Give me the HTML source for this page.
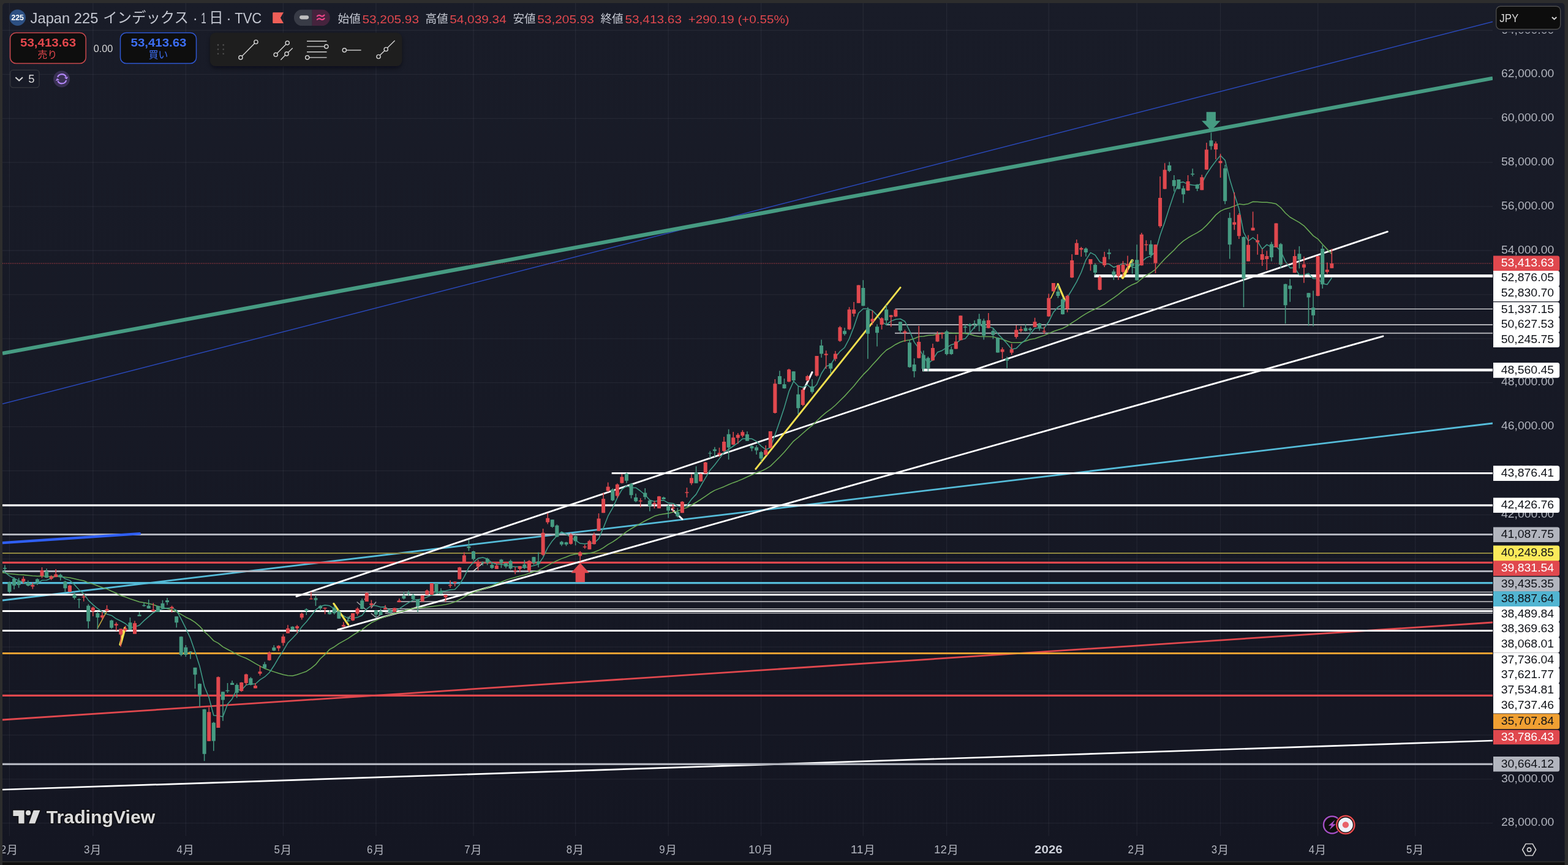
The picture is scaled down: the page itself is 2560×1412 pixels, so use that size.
<!DOCTYPE html>
<html lang="ja"><head><meta charset="utf-8"><title>Japan 225 - TradingView</title>
<style>html,body{margin:0;padding:0;background:#2d2d2d;}body{width:2560px;height:1412px;overflow:hidden;position:relative;font-family:"Liberation Sans", sans-serif;}svg{position:absolute;left:0;top:0;display:block;will-change:transform;}text{font-family:"Liberation Sans", sans-serif;}text.cjk{font-family:"Liberation Sans", "Noto Sans CJK JP", sans-serif;}</style>
</head><body>
<svg width="2560" height="1412" viewBox="0 0 2560 1412">
<defs>
<linearGradient id="bg" x1="0" y1="0" x2="0" y2="1"><stop offset="0" stop-color="#191c28"/><stop offset="1" stop-color="#141622"/></linearGradient>
<clipPath id="pane"><rect x="4" y="5" width="2433" height="1359.5"/></clipPath>
<clipPath id="axis"><rect x="2437" y="52.3" width="117" height="1313"/></clipPath>
</defs>
<rect x="0" y="0" width="2560" height="1412" fill="#2d2d2d"/>
<rect x="4" y="1407.6" width="2550.5" height="4.4" fill="#0f0f0f"/>
<rect x="4" y="5" width="2550.5" height="1400.6" rx="5" fill="url(#bg)"/>
<rect x="4" y="1395" width="2550.5" height="10.6" fill="#141622"/>
<g stroke="rgba(240,243,250,0.06)" stroke-width="1.3">
<line x1="15.48" y1="5" x2="15.48" y2="1364.5"/>
<line x1="151.83" y1="5" x2="151.83" y2="1364.5"/>
<line x1="303.32" y1="5" x2="303.32" y2="1364.5"/>
<line x1="462.4" y1="5" x2="462.4" y2="1364.5"/>
<line x1="613.9" y1="5" x2="613.9" y2="1364.5"/>
<line x1="772.98" y1="5" x2="772.98" y2="1364.5"/>
<line x1="939.62" y1="5" x2="939.62" y2="1364.5"/>
<line x1="1091.13" y1="5" x2="1091.13" y2="1364.5"/>
<line x1="1242.63" y1="5" x2="1242.63" y2="1364.5"/>
<line x1="1409.28" y1="5" x2="1409.28" y2="1364.5"/>
<line x1="1545.63" y1="5" x2="1545.63" y2="1364.5"/>
<line x1="1712.28" y1="5" x2="1712.28" y2="1364.5"/>
<line x1="1856.2" y1="5" x2="1856.2" y2="1364.5"/>
<line x1="1992.55" y1="5" x2="1992.55" y2="1364.5"/>
<line x1="2151.62" y1="5" x2="2151.62" y2="1364.5"/>
<line x1="2310.7" y1="5" x2="2310.7" y2="1364.5"/>
<line x1="4" y1="1343.7" x2="2437" y2="1343.7"/>
<line x1="4" y1="1271.8" x2="2437" y2="1271.8"/>
<line x1="4" y1="1199.9" x2="2437" y2="1199.9"/>
<line x1="4" y1="1128" x2="2437" y2="1128"/>
<line x1="4" y1="1056.1" x2="2437" y2="1056.1"/>
<line x1="4" y1="984.2" x2="2437" y2="984.2"/>
<line x1="4" y1="912.3" x2="2437" y2="912.3"/>
<line x1="4" y1="840.4" x2="2437" y2="840.4"/>
<line x1="4" y1="768.5" x2="2437" y2="768.5"/>
<line x1="4" y1="696.6" x2="2437" y2="696.6"/>
<line x1="4" y1="624.7" x2="2437" y2="624.7"/>
<line x1="4" y1="552.8" x2="2437" y2="552.8"/>
<line x1="4" y1="480.9" x2="2437" y2="480.9"/>
<line x1="4" y1="409" x2="2437" y2="409"/>
<line x1="4" y1="337.1" x2="2437" y2="337.1"/>
<line x1="4" y1="265.2" x2="2437" y2="265.2"/>
<line x1="4" y1="193.3" x2="2437" y2="193.3"/>
<line x1="4" y1="121.4" x2="2437" y2="121.4"/>
<line x1="4" y1="49.5" x2="2437" y2="49.5"/>
</g>
<g clip-path="url(#pane)">
<line x1="4" y1="659.2" x2="2437" y2="35.4" stroke="#2a49bb" stroke-width="1.45"/>
<line x1="4" y1="576.8" x2="2437" y2="127.7" stroke="#469b82" stroke-width="6.2"/>
<line x1="4" y1="980" x2="2437" y2="691" stroke="#55bcd9" stroke-width="2.8"/>
<line x1="4" y1="1175" x2="2437" y2="1016" stroke="#e0484e" stroke-width="2.8"/>
<line x1="4" y1="1289" x2="2437" y2="1209" stroke="#ffffff" stroke-width="2.7"/>
<line x1="4" y1="824.8" x2="2437" y2="824.8" stroke="#ffffff" stroke-width="3.2"/>
<line x1="4" y1="872.5" x2="2437" y2="872.5" stroke="#b2b5be" stroke-width="3"/>
<line x1="4" y1="903" x2="2437" y2="903" stroke="#8f8740" stroke-width="1.8"/>
<line x1="4" y1="918.4" x2="2437" y2="918.4" stroke="#e0484e" stroke-width="3.2"/>
<line x1="4" y1="932.5" x2="2437" y2="932.5" stroke="#b2b5be" stroke-width="3"/>
<line x1="4" y1="951.6" x2="2437" y2="951.6" stroke="#55bcd9" stroke-width="3.2"/>
<line x1="508" y1="966.4" x2="2437" y2="966.4" stroke="#c4c4c8" stroke-width="1.5"/>
<line x1="4" y1="970.8" x2="2437" y2="970.8" stroke="#ffffff" stroke-width="3"/>
<line x1="648.5" y1="981.9" x2="2437" y2="981.9" stroke="#9c9ca2" stroke-width="2"/>
<line x1="626" y1="993.9" x2="2437" y2="993.9" stroke="#aaaaae" stroke-width="1.6"/>
<line x1="4" y1="997.5" x2="2437" y2="997.5" stroke="#ffffff" stroke-width="3.2"/>
<line x1="628.7" y1="1000.7" x2="2437" y2="1000.7" stroke="#b8b8bc" stroke-width="1.4"/>
<line x1="4" y1="1029.5" x2="2437" y2="1029.5" stroke="#ffffff" stroke-width="3"/>
<line x1="4" y1="1066.5" x2="2437" y2="1066.5" stroke="#f0a032" stroke-width="3.2"/>
<line x1="4" y1="1135.3" x2="2437" y2="1135.3" stroke="#e0484e" stroke-width="3.2"/>
<line x1="4" y1="1247.3" x2="2437" y2="1247.3" stroke="#b2b5be" stroke-width="3.2"/>
<line x1="1786.5" y1="450.35" x2="2437" y2="450.35" stroke="#ffffff" stroke-width="4.8"/>
<line x1="1461.3" y1="504.4" x2="2437" y2="504.4" stroke="#e2e2e4" stroke-width="1.3"/>
<line x1="1447.4" y1="530.2" x2="2437" y2="530.2" stroke="#c6c6ca" stroke-width="1.8"/>
<line x1="1461" y1="543.9" x2="2437" y2="543.9" stroke="#9c9ca2" stroke-width="2.2"/>
<line x1="1506" y1="604.05" x2="2437" y2="604.05" stroke="#ffffff" stroke-width="4.6"/>
<line x1="998.7" y1="772.5" x2="2437" y2="772.5" stroke="#ffffff" stroke-width="3.2"/>
<line x1="483.9" y1="973.6" x2="2265.4" y2="378.2" stroke="#ffffff" stroke-width="2.8" stroke-linecap="round"/>
<line x1="551.5" y1="1027.9" x2="2258" y2="548.8" stroke="#ffffff" stroke-width="2.8" stroke-linecap="round"/>
<line x1="4" y1="886.1" x2="228" y2="871.1" stroke="#2f5ff5" stroke-width="4.4" stroke-linecap="round"/>
<line x1="1097.2" y1="831.4" x2="1114" y2="847.5" stroke="#ffffff" stroke-width="3" stroke-linecap="round"/>
<line x1="1312.3" y1="636" x2="1326" y2="607.5" stroke="#ffffff" stroke-width="3" stroke-linecap="round"/>
<line x1="772" y1="932.8" x2="789" y2="918.7" stroke="#e8e8e8" stroke-width="1.4"/>
<polyline fill="none" stroke="#a8a8ac" stroke-width="1.4" points="582.7,982.5 597.6,995.2"/>
<polyline fill="none" stroke="#a8a8ac" stroke-width="1.4" points="594.6,978.8 605.8,968.4"/>
<polyline fill="none" stroke="#a8a8ac" stroke-width="1.4" points="605.8,992.9 614,982.5"/>
<polyline fill="none" stroke="#a8a8ac" stroke-width="1.4" points="605.8,1001.1 614,1007.8 620.7,1004.1"/>
<polyline fill="none" stroke="#a8a8ac" stroke-width="1.4" points="567.1,1013 572.3,1004.8"/>
</g>
<g clip-path="url(#pane)">
<polyline fill="none" stroke="#6aab55" stroke-width="1.55" stroke-linejoin="round" points="4,934.6 7.9,935.21 15.48,936.43 23.05,937.23 30.62,938.02 38.2,938.39 45.77,939.2 53.35,939.98 60.92,940.56 68.5,940.38 76.08,940.68 83.65,940.9 91.23,940.98 98.8,941.26 106.38,942.24 113.95,943.05 121.53,944.68 129.1,946.43 136.68,947.96 144.25,951.12 151.83,953.37 159.4,956.26 166.98,959.03 174.55,961.38 182.12,964.95 189.7,968.28 197.28,972.2 204.85,974.6 212.43,977.48 220,979.97 227.58,982.42 235.15,983.75 242.73,985.28 250.3,987.09 257.88,989.8 265.45,991.8 273.02,993.48 280.6,995.62 288.18,998.57 295.75,1002.92 303.32,1007.45 310.9,1011 318.47,1015.87 326.05,1022.32 333.62,1030.98 341.2,1037.8 348.77,1045.87 356.35,1049.89 363.93,1055.82 371.5,1059.95 379.07,1063.93 386.65,1068.1 394.22,1071.62 401.8,1074.54 409.38,1078.57 416.95,1083.1 424.52,1087.39 432.1,1091.28 439.68,1094.1 447.25,1096.64 454.82,1099.09 462.4,1101.33 469.97,1102.72 477.55,1103.19 485.12,1101.31 492.7,1098.63 500.27,1095.92 507.85,1090.94 515.43,1084.72 523,1075.21 530.58,1068.4 538.15,1060.13 545.73,1055.97 553.3,1050.65 560.88,1046.34 568.45,1042.18 576.02,1037 583.6,1032.18 591.17,1027.91 598.75,1021.91 606.33,1016.54 613.9,1012.83 621.48,1009.37 629.05,1006.44 636.62,1003.97 644.2,1001.5 651.77,999.15 659.35,997.2 666.92,994.85 674.5,993.09 682.08,992.61 689.65,991.62 697.23,991.1 704.8,990 712.38,988.96 719.95,988.04 727.52,986.77 735.1,984.93 742.67,982.52 750.25,978.76 757.83,974.45 765.4,970.19 772.98,966.95 780.55,963.88 788.12,961.91 795.7,959.25 803.27,956.19 810.85,952.96 818.42,950.01 826,946.98 833.58,944.39 841.15,942.44 848.73,940.32 856.3,938.59 863.88,936.1 871.45,933.25 879.02,931.18 886.6,927.41 894.17,923.16 901.75,918.88 909.33,915.17 916.9,911.87 924.48,909.22 932.05,906.15 939.62,904.44 947.2,904.25 954.77,904.14 962.35,902.97 969.92,901.22 977.5,898.33 985.08,894.16 992.65,888.86 1000.23,884.61 1007.8,879.5 1015.38,873.66 1022.95,867.93 1030.53,863.01 1038.1,858.78 1045.68,854.44 1053.25,850.26 1060.83,846.55 1068.4,842.57 1075.98,840.19 1083.55,838.96 1091.13,837.89 1098.7,835.99 1106.28,834.16 1113.85,831.37 1121.43,828.6 1129,824.47 1136.58,819.96 1144.15,815.23 1151.73,810.09 1159.3,804.78 1166.88,800.36 1174.45,797.36 1182.03,794.42 1189.6,790.96 1197.18,787.9 1204.75,785.15 1212.33,781.97 1219.9,778.43 1227.48,774.96 1235.05,771.68 1242.63,769.17 1250.2,765.51 1257.78,760.83 1265.35,753.47 1272.93,745.95 1280.5,737.98 1288.08,728.96 1295.65,720.09 1303.23,713.98 1310.8,707.29 1318.38,700.64 1325.95,694.68 1333.53,686.97 1341.1,679.88 1348.68,673.36 1356.25,667.98 1363.83,661.51 1371.4,654.04 1378.98,646.63 1386.55,638.26 1394.13,630.07 1401.7,620.47 1409.28,611.65 1416.85,604.17 1424.43,595.59 1432,587.37 1439.58,578.78 1447.15,571.53 1454.73,567.06 1462.3,562.21 1469.88,558.44 1477.45,555.95 1485.03,555.08 1492.6,552.67 1500.18,549.54 1507.75,549.06 1515.33,547.52 1522.9,547 1530.48,545.73 1538.05,544.38 1545.63,543.43 1553.2,543.45 1560.78,544.38 1568.35,543.18 1575.93,544.37 1583.5,545.45 1591.08,548.01 1598.65,549.29 1606.23,549.42 1613.8,549.5 1621.38,549.65 1628.95,551.89 1636.53,553.78 1644.1,556.75 1651.68,559.33 1659.25,559.28 1666.83,559.12 1674.4,556.76 1681.98,554.07 1689.55,552.75 1697.13,550.06 1704.7,547.62 1712.28,544.35 1719.85,541.01 1727.43,538.58 1735,535.98 1742.58,532.18 1750.15,526.88 1757.73,522.13 1765.3,516.94 1772.88,512.13 1780.45,507.88 1788.03,504.43 1795.6,500.62 1803.18,496.49 1810.75,491.21 1818.33,486.18 1825.9,480.68 1833.48,474.4 1841.05,468.84 1848.63,464.67 1856.2,461.49 1863.78,455.19 1871.35,449.59 1878.93,445.22 1886.5,439.8 1894.08,431.11 1901.65,422.74 1909.23,415.43 1916.8,408.26 1924.38,400.07 1931.95,393.44 1939.53,388.28 1947.1,383.82 1954.68,379.93 1962.25,375.02 1969.83,367.87 1977.4,359.62 1984.98,350.88 1992.55,344.61 2000.13,341.15 2007.7,339.14 2015.28,336.34 2022.85,333.09 2030.43,334.02 2038,332.65 2045.58,329.22 2053.15,329.59 2060.73,330.25 2068.3,330.33 2075.88,331.16 2083.45,332.82 2091.03,339.02 2098.6,347.79 2106.18,354.51 2113.75,358.9 2121.33,363.16 2128.9,368.59 2136.48,376.61 2144.05,384.88 2151.62,390.03 2159.2,398.83 2166.78,406.89 2174.35,414.73"/>
<polyline fill="none" stroke="#3f9c88" stroke-width="1.55" stroke-linejoin="round" points="4,931.01 7.9,934.05 15.48,940.13 23.05,944.17 30.62,948.08 38.2,949.95 45.77,955.43 53.35,953.27 60.92,952.12 68.5,947.32 76.08,946.94 83.65,944.01 91.23,940.48 98.8,939.01 106.38,944.82 113.95,947.37 121.53,954.39 129.1,962.76 136.68,969.03 144.25,979.87 151.83,987.07 159.4,993.44 166.98,998.49 174.55,1002.58 182.12,1004.67 189.7,1010.05 197.28,1013.75 204.85,1018.01 212.43,1024.69 220,1023.16 227.58,1020.66 235.15,1013.16 242.73,1006.66 250.3,1000.15 257.88,996.45 265.45,993.85 273.02,992.68 280.6,992.17 288.18,996.38 295.75,1010.44 303.32,1025.63 310.9,1041.94 318.47,1064.04 326.05,1087.82 333.62,1120.18 341.2,1138.83 348.77,1167.79 356.35,1168.57 363.93,1170.05 371.5,1149.5 379.07,1140.67 386.65,1124.91 394.22,1126.66 401.8,1118.28 409.38,1116.28 416.95,1116.52 424.52,1109.62 432.1,1104.95 439.68,1097.98 447.25,1086.78 454.82,1073.8 462.4,1062.36 469.97,1049.38 477.55,1041.8 485.12,1033.83 492.7,1023.33 500.27,1014.91 507.85,1005.16 515.43,995.49 523,989.64 530.58,987.7 538.15,988.83 545.73,993.68 553.3,999.72 560.88,1005.16 568.45,1009.56 576.02,1009.26 583.6,1007.72 591.17,1004.57 598.75,994.16 606.33,988.33 613.9,988.77 621.48,990.91 629.05,990.62 636.62,997.07 644.2,998.56 651.77,993.95 659.35,988.54 666.92,983.87 674.5,979.41 682.08,978.9 689.65,977.26 697.23,974.65 704.8,971.23 712.38,969 719.95,964.83 727.52,964.62 735.1,962.84 742.67,962.33 750.25,954.17 757.83,941.64 765.4,926.35 772.98,917.84 780.55,911.38 788.12,909.9 795.7,912.33 803.27,918.79 810.85,920.93 818.42,921.23 826,922.42 833.58,924.26 841.15,925.15 848.73,925.36 856.3,926.79 863.88,925 871.45,923.16 879.02,920.99 886.6,910.07 894.17,894.07 901.75,882.92 909.33,874.45 916.9,868.08 924.48,871.89 932.05,877.3 939.62,881.97 947.2,887.03 954.77,887.68 962.35,886.61 969.92,886.7 977.5,879.35 985.08,861.9 992.65,842.42 1000.23,829.12 1007.8,812.62 1015.38,799.03 1022.95,793.14 1030.53,795.9 1038.1,796.2 1045.68,801.49 1053.25,808.01 1060.83,816.23 1068.4,818.77 1075.98,817.13 1083.55,816.67 1091.13,821.11 1098.7,821.65 1106.28,826.01 1113.85,827.79 1121.43,825.5 1129,814.87 1136.58,806.87 1144.15,793.07 1151.73,780.2 1159.3,767.61 1166.88,758.81 1174.45,748.9 1182.03,738.35 1189.6,733.51 1197.18,728.26 1204.75,722.98 1212.33,716.2 1219.9,715.93 1227.48,716.2 1235.05,720.37 1242.63,728.09 1250.2,733.92 1257.78,730.8 1265.35,709.68 1272.93,688.04 1280.5,665.14 1288.08,638.91 1295.65,622.31 1303.23,630.31 1310.8,632.18 1318.38,628.19 1325.95,635.48 1333.53,627.48 1341.1,609.72 1348.68,597.95 1356.25,595.49 1363.83,583.03 1371.4,573.68 1378.98,567.22 1386.55,552.76 1394.13,533.44 1401.7,511.03 1409.28,504.02 1416.85,503.92 1424.43,507.01 1432,514.61 1439.58,525.43 1447.15,530.17 1454.73,524.12 1462.3,521.16 1469.88,520.47 1477.45,524.77 1485.03,540.05 1492.6,558.34 1500.18,568.81 1507.75,581.28 1515.33,593.34 1522.9,587.11 1530.48,575.06 1538.05,572.17 1545.63,567.35 1553.2,562.68 1560.78,560.54 1568.35,554.46 1575.93,552.69 1583.5,543.53 1591.08,533.8 1598.65,528.56 1606.23,535.11 1613.8,532.68 1621.38,535.61 1628.95,544.83 1636.53,552.63 1644.1,560.79 1651.68,570.3 1659.25,568.61 1666.83,560.95 1674.4,554.96 1681.98,544.93 1689.55,535.92 1697.13,535.2 1704.7,535.83 1712.28,525.07 1719.85,509.74 1727.43,501.29 1735,496.93 1742.58,485.49 1750.15,473.18 1757.73,460.1 1765.3,444.53 1772.88,424.31 1780.45,412.32 1788.03,416.32 1795.6,427.54 1803.18,430.42 1810.75,431 1818.33,436.29 1825.9,433.85 1833.48,429.69 1841.05,432.06 1848.63,435.9 1856.2,437.51 1863.78,427.54 1871.35,420.89 1878.93,417.82 1886.5,410.88 1894.08,383.96 1901.65,362.83 1909.23,338.92 1916.8,316.47 1924.38,298.28 1931.95,297.13 1939.53,300.87 1947.1,302.06 1954.68,302.9 1962.25,299.06 1969.83,284.48 1977.4,273.01 1984.98,262.85 1992.55,253.81 2000.13,261.6 2007.7,292.6 2015.28,317.43 2022.85,340.74 2030.43,379.13 2038,393.43 2045.58,387.91 2053.15,393.83 2060.73,406.67 2068.3,399.35 2075.88,403.43 2083.45,402 2091.03,409.94 2098.6,426.62 2106.18,437.37 2113.75,436.97 2121.33,448.81 2128.9,448.72 2136.48,446.16 2144.05,454.73 2151.62,454.73 2159.2,462.83 2166.78,464.55 2174.35,453.45"/>
<line x1="1233.8" y1="765.5" x2="1470" y2="469.3" stroke="#f5e04f" stroke-width="2.9" stroke-linecap="round"/>
<line x1="196.4" y1="1052" x2="204" y2="1025.2" stroke="#f5e04f" stroke-width="4.2" stroke-linecap="round"/>
<line x1="158.8" y1="1026.5" x2="174.1" y2="998.4" stroke="#c9ab3c" stroke-width="1.5"/>
<line x1="544.9" y1="985.4" x2="568.6" y2="1019.7" stroke="#f5e04f" stroke-width="3.2" stroke-linecap="round"/>
<line x1="1715.4" y1="487.3" x2="1727.1" y2="463.6" stroke="#e6cd46" stroke-width="1.6"/>
<line x1="1727.1" y1="463.6" x2="1738" y2="488.8" stroke="#f5e04f" stroke-width="3.2" stroke-linecap="round"/>
<line x1="1832.8" y1="453.3" x2="1848.5" y2="425.3" stroke="#f5e04f" stroke-width="4.6" stroke-linecap="round"/>
<path d="M7.9 922.53V931.45M15.48 949.31V968.44M23.05 942.3V962.07M30.62 943.57V959.52M45.77 947.4V956.96M60.92 944.21V955.05M76.08 928.01V943.57M98.8 936.56V947.4M106.38 948.04V965.89M121.53 966.53V978.65M129.1 976.73V992.68M144.25 986.3V1025.84M159.4 998.42V1026.48M182.12 1011.81V1026.48M212.43 1007.98V1027.76M227.58 999.06V1006.07M235.15 983.11V990.13M242.73 978.65V993.32M257.88 988.85V998.67M265.45 979.67V993.32M273.02 976.1V987.58M288.18 1006.07V1024.57M295.75 1038.81V1071.23M303.32 1053.09V1071.97M310.9 1063.05V1075.69M318.47 1089.81V1124.01M326.05 1115.54V1153.75M333.62 1157.47V1242.23M348.77 1178.59V1225.87M363.93 1128.92V1176.8M371.5 1115.09V1131M379.07 1111.08V1118.07M386.65 1115.54V1139.33M409.38 1105.13V1118.81M432.1 1080.45V1091.3M447.25 1053.16V1062.83M477.55 1022.23V1028.62M500.27 992.94V1004.09M515.43 971.38V988.92M523 987.73V996.65M538.15 995.91V1003.35M545.73 988.92V1002.9M553.3 995.17V1010.04M568.45 1006.32V1014.8M591.17 976.88V994.42M613.9 995.91V1007.81M621.48 993.38V1004.09M636.62 993.68V1001.12M659.35 966.17V978.51M666.92 963.94V972.86M674.5 968.7V978.81M682.08 978.07V999.33M712.38 952.04V967.66M719.95 960.22V970.19M765.4 880.78V899.37M772.98 899.07V914.98M788.12 916.47V923.16M795.7 910.52V922.42M803.27 918.7V928.81M818.42 912.45V926.88M826 918.7V927.62M833.58 913.49V929.85M856.3 913.94V928.81M871.45 909.03V921.67M879.02 901.6V926.13M901.75 848.07V861.45M909.33 856.25V876.77M916.9 883.01V891.19M924.48 884.5V891.19M939.62 872.9V890.15M1000.23 797.21V817.88M1022.95 771.78V788.59M1030.53 788.59V813.42M1038.1 805.69V819.81M1053.25 797.08V815.24M1060.83 815.92V834.49M1083.55 810.8V815.24M1091.13 823.99V845.52M1106.28 829.37V844.45M1136.58 761.15V788.73M1159.3 736.25V747.96M1166.88 729.79V745.94M1189.6 700.86V750.25M1219.9 704.22V719.7M1227.48 726.43V736.52M1235.05 727.1V741.9M1242.63 736.01V753.93M1272.93 605.17V627.29M1280.5 617.94V634.45M1295.65 605.95V622.31M1303.23 630.87V676.04M1325.95 618.88V642.55M1341.1 554.54V583.68M1356.25 592.72V609.86M1378.98 535.06V547.84M1409.28 457.14V499.53M1416.85 501.56V585.71M1432 529.14V565.45M1447.15 497.66V531.16M1469.88 524.93V543.63M1485.03 554.54V600.2M1492.6 584.93V616.09M1507.75 572.15V606.43M1515.33 582.12V605.97M1545.63 538.69V579.99M1553.2 565.5V579.21M1575.93 530.12V544.15M1583.5 527.79V544.15M1591.08 523.11V536.82M1598.65 512.2V541.03M1606.23 520.31V554.59M1621.38 536.82V553.5M1628.95 550.85V575.78M1644.1 582.33V601.03M1674.4 529.34V541.03M1681.98 534.02V541.5M1697.13 527.01V539.78M1727.43 465.14V486.49M1735 484.93V513.45M1772.88 404.11V418.68M1788.03 429.81V449.44M1810.75 406.6V423.35M1818.33 439.7V457.07M1848.63 423.74V446.71M1856.2 399.21V457.85M1878.93 392.2V421.01M1909.23 264.28V280.96M1916.8 286.1V312.59M1924.38 293.11V308.69M1931.95 303.24V331.29M1947.1 275.19V287.66M1954.68 300.59V312.12M1977.4 216.44V244.49M2000.13 268.96V333.32M2007.7 346.99V422.41M2030.43 386.1V501.42M2075.88 394.67V426.62M2091.03 396.7V437.53M2098.6 463.24V528.22M2106.18 455.45V492.85M2121.33 402V438.31M2136.48 478.04V531.81M2144.05 474.62V532.59M2159.2 400.13V471.03" stroke="#469b82" stroke-width="1.5" fill="none"/>
<path d="M38.2 941.02V952.5M53.35 951.22V961.43M68.5 926.1V943.57M83.65 939.11V946.76M91.23 928.9V942.3M113.95 954.41V966.53M136.68 970.36V981.84M151.83 990.13V1006.07M166.98 998.42V1011.17M174.55 987.96V998.42M189.7 1015.64V1029.67M197.28 1026.22V1055.82M204.85 1021.38V1031.58M220 1013.47V1034.77M250.3 984.13V998.42M280.6 988.85V999.69M341.2 1154.5V1209.81M356.35 1104.24V1187.96M394.22 1113.61V1129.22M401.8 1099.78V1118.81M416.95 1115.09V1123.57M424.52 1086.39V1102.75M439.68 1063.57V1078.44M454.82 1053.16V1062.83M462.4 1035.61V1053.9M469.97 1020.15V1033.83M485.12 1020.15V1033.53M492.7 999.93V1011.52M507.85 966.17V978.51M530.58 991.75V1002.6M560.88 1015.24V1024.16M576.02 1000.82V1013.75M583.6 991.45V1004.83M598.75 966.91V982.08M606.33 979.55V992.19M629.05 987.73V995.17M644.2 992.19V998.88M651.77 976.88V983.27M689.65 971.38V982.08M697.23 962.16V971.08M704.8 952.04V971.08M727.52 970.63V982.53M735.1 947.29V959.48M742.67 949.18V957.36M750.25 925.39V945.46M757.83 901.6V917.96M780.55 913.49V931.34M810.85 920.19V928.81M841.15 925.39V937.29M848.73 923.9V933.57M863.88 914.24V934.31M886.6 862.94V907.55M894.17 837.66V855.5M932.05 870.37V888.96M947.2 899.67V916.47M954.77 888.96V895.65M962.35 881.23V896.69M969.92 869.33V888.66M977.5 838.1V866.65M985.08 804.5V837.21M992.65 787.55V803.01M1007.8 789.33V813.12M1015.38 773.72V789.33M1045.68 813.23V828.03M1068.4 817.26V830.05M1075.98 809.86V830.05M1098.7 822.65V836.1M1113.85 817.94V837.18M1121.43 796V811.88M1129 774.2V791.69M1144.15 772.85V786.31M1151.73 754.01V772.85M1174.45 730.87V745.67M1182.03 712.97V737.87M1197.18 704.9V726.43M1204.75 706.91V724.41M1212.33 702.2V713.91M1250.2 726.98V743.02M1257.78 704.08V731.34M1265.35 618.88V674.95M1288.08 602.06V623.86M1310.8 633.21V662.8M1318.38 612.18V622.31M1333.53 581.03V614.85M1348.68 572.15V602.07M1363.83 572.93V589.6M1371.4 532.25V558.12M1386.55 501.24V538.64M1394.13 492.98V516.67M1401.7 465.25V494.85M1424.43 507.01V530.38M1439.58 517.92V537.87M1454.73 514.02V533.5M1462.3 504.2V517.45M1477.45 538.18V558.12M1500.18 531.94V584.93M1522.9 561.08V589.29M1530.48 541.03V558.17M1538.05 542.59V552.72M1560.78 547.27V569.86M1568.35 515.01V555.52M1613.8 511.11V535.89M1636.53 567.06V585.76M1651.68 561.29V579.21M1659.25 530.9V552.72M1666.83 532.46V542.59M1689.55 518.75V534.33M1704.7 533.24V544.93M1712.28 479.48V516.88M1719.85 462.02V476.05M1742.58 481.03V509.86M1750.15 415.02V453.72M1757.73 391.03V415.95M1765.3 403.1V418.91M1780.45 422.96V441.65M1795.6 449.83V473.97M1803.18 411.12V436.04M1825.9 432.31V457.07M1833.48 426.07V451.39M1841.05 417.51V445.16M1863.78 379.97V433.47M1871.35 392.2V409.72M1886.5 399.3V446.05M1894.08 288.12V371.81M1901.65 266.31V308.69M1939.53 286.1V311.5M1962.25 285.32V310.25M1969.83 233.11V277.22M1984.98 231.09V260.07M1992.55 251.03V289.99M2015.28 313.95V375.19M2022.85 347.92V390M2038 383.76V426.62M2045.58 345.58V376.28M2053.15 382.21V415.71M2060.73 406.36V434.1M2068.3 409.48V440.64M2083.45 364.28V404.02M2113.75 407.61V445.32M2128.9 418.83V461.68M2151.62 418.05V483.5M2166.78 428.49V446.88M2174.35 406.36V437.84" stroke="#e0484e" stroke-width="1.5" fill="none"/>
<path d="M4.9 927.01h6v1.5h-6zM12.48 950.2h6v15.69h-6zM20.05 944.85h6v10.84h-6zM27.62 948.67h6v6.38h-6zM42.77 951.22h6v4.46h-6zM57.92 945.48h6v4.46h-6zM73.08 933.11h6v9.82h-6zM95.8 938.47h6v4.08h-6zM103.38 949.31h6v10.84h-6zM118.53 970.61h6v5.48h-6zM126.1 978.01h6v1.28h-6zM141.25 988.85h6v25.51h-6zM156.4 1000.97h6v7.02h-6zM179.12 1012.7h6v12.12h-6zM209.43 1016.28h6v11.48h-6zM224.58 1003.52h6v2.55h-6zM232.15 987.72h6v1.5h-6zM239.73 988.85h6v4.46h-6zM254.88 989.23h6v9.44h-6zM262.45 985.03h6v8.04h-6zM270.02 979.92h6v3.19h-6zM285.18 1006.33h6v9.95h-6zM292.75 1039.26h6v29.74h-6zM300.32 1056.65h6v12.34h-6zM307.9 1063.49h6v1.5h-6zM315.47 1089.81h6v11.45h-6zM323.05 1116.13h6v19.03h-6zM330.62 1157.77h6v73.01h-6zM345.77 1179.78h6v29.74h-6zM360.93 1129.22h6v13.38h-6zM368.5 1126.83h6v1.5h-6zM376.07 1114.65h6v3.42h-6zM383.65 1118.07h6v12.64h-6zM406.38 1107.21h6v10.86h-6zM429.1 1084.16h6v6.39h-6zM444.25 1056.88h6v5.2h-6zM474.55 1023.12h6v4.76h-6zM497.27 994.42h6v2.53h-6zM512.43 976.13h6v3.42h-6zM520 989.22h6v3.72h-6zM535.15 998.88h6v3.72h-6zM542.73 992.49h6v8.62h-6zM550.3 998.14h6v11.6h-6zM565.45 1012.86h6v1.5h-6zM588.17 980.3h6v13.68h-6zM610.9 996.36h6v6.99h-6zM618.48 997.84h6v6.25h-6zM633.62 996.65h6v3.72h-6zM656.35 972.86h6v4.16h-6zM663.92 967.66h6v1.49h-6zM671.5 971.38h6v6.69h-6zM679.08 978.36h6v11.6h-6zM709.38 952.34h6v14.57h-6zM716.95 964.68h6v4.46h-6zM762.4 891.93h6v2.68h-6zM769.98 900.11h6v12.34h-6zM785.12 917.58h6v1.5h-6zM792.7 912.01h6v6.69h-6zM800.27 921.97h6v4.91h-6zM815.42 913.49h6v5.2h-6zM823 919.44h6v5.2h-6zM830.58 915.72h6v12.19h-6zM853.3 921.38h6v4.46h-6zM868.45 909.33h6v9.37h-6zM876.02 916.47h6v4.01h-6zM898.75 848.36h6v11.6h-6zM906.33 857.73h6v18.59h-6zM913.9 884.5h6v4.16h-6zM921.48 885.24h6v3.42h-6zM936.62 875.28h6v8.03h-6zM997.23 799h6v17.84h-6zM1019.95 773.27h6v11.6h-6zM1027.53 789.78h6v18.59h-6zM1035.1 811.93h6v6.39h-6zM1050.25 804.48h6v6.73h-6zM1057.83 816.99h6v9.02h-6zM1080.55 811.88h6v3.1h-6zM1088.13 826.01h6v7.4h-6zM1103.28 836.1h6v6.73h-6zM1133.58 771.24h6v17.49h-6zM1156.3 739.21h6v1.35h-6zM1163.88 733.56h6v2.69h-6zM1186.6 708.66h6v21.8h-6zM1216.9 708.93h6v10.77h-6zM1224.48 728.18h6v3.63h-6zM1232.05 730.2h6v4.98h-6zM1239.63 738.04h6v10.44h-6zM1269.93 614.05h6v12.93h-6zM1277.5 627.29h6v6.7h-6zM1292.65 606.26h6v14.8h-6zM1300.23 643.8h6v22.43h-6zM1322.95 630.87h6v8.88h-6zM1338.1 563.89h6v13.56h-6zM1353.25 593.03h6v8.73h-6zM1375.98 540.2h6v4.99h-6zM1406.28 470.08h6v29.14h-6zM1413.85 505.76h6v38.96h-6zM1429 533.19h6v9.97h-6zM1444.15 505.14h6v17.77h-6zM1466.88 525.24h6v14.49h-6zM1482.03 559.21h6v40.05h-6zM1489.6 595.06h6v10.91h-6zM1504.75 579.47h6v22.6h-6zM1512.33 584.15h6v17.14h-6zM1542.63 541.03h6v36.93h-6zM1550.2 570.17h6v7.79h-6zM1572.93 533.24h6v1.56h-6zM1580.5 529.03h6v3.12h-6zM1588.08 528.1h6v1.25h-6zM1595.65 520.77h6v10.44h-6zM1603.23 523.42h6v24.62h-6zM1618.38 540.25h6v6.55h-6zM1625.95 551.16h6v24.31h-6zM1641.1 585.44h6v3.43h-6zM1671.4 535.58h6v4.68h-6zM1678.98 536.36h6v2.34h-6zM1694.13 528.1h6v6.7h-6zM1724.43 476.05h6v6.86h-6zM1732 488.51h6v24.47h-6zM1769.88 405.83h6v6.07h-6zM1785.03 432.31h6v12.62h-6zM1807.75 412.29h6v2.49h-6zM1815.33 443.21h6v6.39h-6zM1845.63 429.35h6v4.67h-6zM1853.2 424.13h6v33.49h-6zM1875.93 398.66h6v17.29h-6zM1906.23 270.05h6v9.04h-6zM1913.8 293.89h6v9.82h-6zM1921.38 293.11h6v15.27h-6zM1928.95 307.6h6v9.66h-6zM1944.1 283.45h6v1.56h-6zM1951.68 301.37h6v6.55h-6zM1974.4 229.22h6v9.35h-6zM1997.13 274.72h6v53.45h-6zM2004.7 355.71h6v43.63h-6zM2027.43 386.88h6v67.79h-6zM2072.88 398.57h6v21.51h-6zM2088.03 398.57h6v33.5h-6zM2095.6 463.71h6v34.6h-6zM2103.18 466.36h6v5.45h-6zM2118.33 414.15h6v9.66h-6zM2133.48 478.36h6v7.17h-6zM2141.05 502.2h6v12.47h-6zM2156.2 406.05h6v58.28h-6z" fill="#469b82"/>
<path d="M35.2 944.85h6v4.46h-6zM50.35 955.05h6v2.55h-6zM65.5 931.07h6v8.93h-6zM80.65 941.02h6v3.83h-6zM88.23 937.45h6v4.59h-6zM110.95 955.69h6v10.2h-6zM133.68 973.69h6v1.5h-6zM148.83 991.66h6v6.12h-6zM163.98 1004.54h6v3.44h-6zM171.55 994.34h6v2.55h-6zM186.7 1018.57h6v2.42h-6zM194.28 1026.48h6v9.18h-6zM201.85 1025.84h6v3.19h-6zM217 1017.17h6v17.6h-6zM247.3 995.23h6v2.55h-6zM277.6 990.77h6v2.3h-6zM338.2 1162.23h6v47.58h-6zM353.35 1105.13h6v82.83h-6zM391.22 1113.9h6v14.13h-6zM398.8 1100.67h6v14.42h-6zM413.95 1119.26h6v4.31h-6zM421.52 1096.21h6v3.57h-6zM436.68 1065.8h6v11.9h-6zM451.82 1054.35h6v4.01h-6zM459.4 1039.03h6v10.41h-6zM466.97 1025.65h6v8.18h-6zM482.12 1022.23h6v3.42h-6zM489.7 1001.86h6v6.39h-6zM504.85 976.88h6v1.49h-6zM527.58 992.04h6v1.5h-6zM557.88 1020.15h6v2.53h-6zM573.02 1001.12h6v11.6h-6zM580.6 993.38h6v8.48h-6zM595.75 968.1h6v13.98h-6zM603.33 985.06h6v2.68h-6zM626.05 992.49h6v2.38h-6zM641.2 992.49h6v6.39h-6zM648.77 980.3h6v2.68h-6zM686.65 972.12h6v9.67h-6zM694.23 963.94h6v6.69h-6zM701.8 952.04h6v19.03h-6zM724.52 971.08h6v4.01h-6zM732.1 954.86h6v1.5h-6zM739.67 949.48h6v2.23h-6zM747.25 926.13h6v19.33h-6zM754.83 906.51h6v11.45h-6zM777.55 917.21h6v7.73h-6zM807.85 923.16h6v5.65h-6zM838.15 931.18h6v1.5h-6zM845.73 924.2h6v4.61h-6zM860.88 915.72h6v15.61h-6zM883.6 869.63h6v35.99h-6zM891.17 845.84h6v6.69h-6zM929.05 872.9h6v14.87h-6zM944.2 901.6h6v5.95h-6zM951.77 891.93h6v1.49h-6zM959.35 883.31h6v13.38h-6zM966.92 873.35h6v15.02h-6zM974.5 846.58h6v20.07h-6zM982.08 814.31h6v22.9h-6zM989.65 794.54h6v6.69h-6zM1004.8 790.82h6v18.59h-6zM1012.38 778.62h6v9.96h-6zM1042.68 816.92h6v1.5h-6zM1065.4 821.03h6v1.61h-6zM1072.98 810.13h6v19.51h-6zM1095.7 828.49h6v1.5h-6zM1110.85 819.01h6v18.17h-6zM1118.43 803.32h6v1.5h-6zM1126 780.26h6v8.48h-6zM1141.15 773.8h6v11.84h-6zM1148.73 754.69h6v18.17h-6zM1171.45 739.21h6v2.69h-6zM1179.03 721.04h6v15.21h-6zM1194.18 714.32h6v11.44h-6zM1201.75 709.87h6v4.84h-6zM1209.33 705.3h6v5.92h-6zM1247.2 734.45h6v8.1h-6zM1254.78 704.08h6v27.26h-6zM1262.35 626.2h6v47.82h-6zM1285.08 603.3h6v19.78h-6zM1307.8 636.32h6v24.61h-6zM1315.38 614.05h6v7.01h-6zM1330.53 581.03h6v32.26h-6zM1345.68 577.45h6v2.34h-6zM1360.83 577.45h6v8.26h-6zM1368.4 534.28h6v22.28h-6zM1383.55 505.14h6v32.26h-6zM1391.13 505.14h6v6.86h-6zM1398.7 465.4h6v29.45h-6zM1421.43 520.57h6v4.36h-6zM1436.58 519.48h6v10.44h-6zM1451.73 514.49h6v3.12h-6zM1459.3 505.76h6v10.91h-6zM1474.45 540.98h6v2.18h-6zM1497.18 558.12h6v26.49h-6zM1519.9 568.1h6v20.26h-6zM1527.48 545.71h6v11.69h-6zM1535.05 543.68h6v1.56h-6zM1557.78 557.39h6v12.16h-6zM1565.35 515.32h6v39.89h-6zM1610.8 522.64h6v12.93h-6zM1633.53 570.17h6v4.36h-6zM1648.68 570.17h6v5.61h-6zM1656.25 538.38h6v11.53h-6zM1663.83 537.14h6v2.65h-6zM1686.55 525.14h6v8.88h-6zM1701.7 540.25h6v1.25h-6zM1709.28 486.49h6v30.08h-6zM1716.85 462.02h6v13.56h-6zM1739.58 483.06h6v21.04h-6zM1747.15 424.91h6v28.04h-6zM1754.73 396.64h6v19.31h-6zM1762.3 405.05h6v2.49h-6zM1777.45 423.12h6v8.02h-6zM1792.6 452.71h6v20.25h-6zM1800.18 419.45h6v13.47h-6zM1822.9 432.69h6v17.91h-6zM1830.48 431.92h6v12.07h-6zM1838.05 431.29h6v2.41h-6zM1860.78 382.85h6v50.39h-6zM1868.35 398.66h6v1.48h-6zM1883.5 399.3h6v30.18h-6zM1891.08 323.03h6v46.13h-6zM1898.65 277.22h6v31.17h-6zM1936.53 295.92h6v15.12h-6zM1959.25 289.21h6v21.04h-6zM1966.83 244.33h6v32.41h-6zM1981.98 234.2h6v9.82h-6zM1989.55 262.72h6v3.58h-6zM2012.28 362.73h6v3.9h-6zM2019.85 350.73h6v34.6h-6zM2035 399.66h6v26.96h-6zM2042.58 371.76h6v4.52h-6zM2050.15 392.33h6v3.12h-6zM2057.73 414.93h6v9.04h-6zM2065.3 418.05h6v4.99h-6zM2080.45 364.6h6v39.11h-6zM2110.75 418.05h6v27.27h-6zM2125.9 431.61h6v5.14h-6zM2148.62 418.05h6v64.98h-6zM2163.78 440.18h6v3.9h-6zM2171.35 430.05h6v7.79h-6z" fill="#e0484e"/>
<line x1="4" y1="430" x2="2437" y2="430" stroke="#e0484e" stroke-width="1.5" stroke-dasharray="1.5 1.5" opacity="0.55"/>
<path fill="#469b82" d="M1969.6 182.8H1984.9V197.3H1992.4L1977.3 213.2L1962 197.3H1969.6Z"/>
<path fill="#e0484e" d="M947.2 918.8L962 935.2H954.9V950.3H939.7V935.2H932.5Z"/>
</g>
<g clip-path="url(#axis)">
<text x="2451" y="1348.45" font-size="18" fill="#b2b5be" textLength="86.2" lengthAdjust="spacingAndGlyphs">28,000.00</text>
<text x="2451" y="1276.55" font-size="18" fill="#b2b5be" textLength="86.2" lengthAdjust="spacingAndGlyphs">30,000.00</text>
<text x="2451" y="1204.65" font-size="18" fill="#b2b5be" textLength="86.2" lengthAdjust="spacingAndGlyphs">32,000.00</text>
<text x="2451" y="1132.75" font-size="18" fill="#b2b5be" textLength="86.2" lengthAdjust="spacingAndGlyphs">34,000.00</text>
<text x="2451" y="1060.85" font-size="18" fill="#b2b5be" textLength="86.2" lengthAdjust="spacingAndGlyphs">36,000.00</text>
<text x="2451" y="988.95" font-size="18" fill="#b2b5be" textLength="86.2" lengthAdjust="spacingAndGlyphs">38,000.00</text>
<text x="2451" y="917.05" font-size="18" fill="#b2b5be" textLength="86.2" lengthAdjust="spacingAndGlyphs">40,000.00</text>
<text x="2451" y="845.15" font-size="18" fill="#b2b5be" textLength="86.2" lengthAdjust="spacingAndGlyphs">42,000.00</text>
<text x="2451" y="773.25" font-size="18" fill="#b2b5be" textLength="86.2" lengthAdjust="spacingAndGlyphs">44,000.00</text>
<text x="2451" y="701.35" font-size="18" fill="#b2b5be" textLength="86.2" lengthAdjust="spacingAndGlyphs">46,000.00</text>
<text x="2451" y="629.45" font-size="18" fill="#b2b5be" textLength="86.2" lengthAdjust="spacingAndGlyphs">48,000.00</text>
<text x="2451" y="557.55" font-size="18" fill="#b2b5be" textLength="86.2" lengthAdjust="spacingAndGlyphs">50,000.00</text>
<text x="2451" y="485.65" font-size="18" fill="#b2b5be" textLength="86.2" lengthAdjust="spacingAndGlyphs">52,000.00</text>
<text x="2451" y="413.75" font-size="18" fill="#b2b5be" textLength="86.2" lengthAdjust="spacingAndGlyphs">54,000.00</text>
<text x="2451" y="341.85" font-size="18" fill="#b2b5be" textLength="86.2" lengthAdjust="spacingAndGlyphs">56,000.00</text>
<text x="2451" y="269.95" font-size="18" fill="#b2b5be" textLength="86.2" lengthAdjust="spacingAndGlyphs">58,000.00</text>
<text x="2451" y="198.05" font-size="18" fill="#b2b5be" textLength="86.2" lengthAdjust="spacingAndGlyphs">60,000.00</text>
<text x="2451" y="126.15" font-size="18" fill="#b2b5be" textLength="86.2" lengthAdjust="spacingAndGlyphs">62,000.00</text>
<text x="2451" y="55.4" font-size="18" fill="#b2b5be" textLength="86.2" lengthAdjust="spacingAndGlyphs">64,000.00</text>
</g>
<path fill="#e0484e" d="M2438 417.6H2542.7Q2546.2 417.6 2546.2 421.1V439Q2546.2 442.5 2542.7 442.5H2438Z"/>
<text x="2450.8" y="435.1" font-size="18" fill="#ffffff" textLength="86.3" lengthAdjust="spacingAndGlyphs">53,413.63</text>
<path fill="#ffffff" d="M2438 441.9H2542.7Q2546.2 441.9 2546.2 445.4V463.9Q2546.2 467.4 2542.7 467.4H2438Z"/>
<text x="2450.8" y="459.4" font-size="18" fill="#0f1117" textLength="86.3" lengthAdjust="spacingAndGlyphs">52,876.05</text>
<path fill="#ffffff" d="M2438 466.8H2542.7Q2546.2 466.8 2546.2 470.3V488.4Q2546.2 491.9 2542.7 491.9H2438Z"/>
<text x="2450.8" y="484.3" font-size="18" fill="#0f1117" textLength="86.3" lengthAdjust="spacingAndGlyphs">52,830.70</text>
<path fill="#ffffff" d="M2438 493.2H2542.7Q2546.2 493.2 2546.2 496.7V514.6Q2546.2 518.1 2542.7 518.1H2438Z"/>
<text x="2450.8" y="510.7" font-size="18" fill="#0f1117" textLength="86.3" lengthAdjust="spacingAndGlyphs">51,337.15</text>
<path fill="#ffffff" d="M2438 517.5H2542.7Q2546.2 517.5 2546.2 521V539.5Q2546.2 543 2542.7 543H2438Z"/>
<text x="2450.8" y="535" font-size="18" fill="#0f1117" textLength="86.3" lengthAdjust="spacingAndGlyphs">50,627.53</text>
<path fill="#ffffff" d="M2438 542.4H2542.7Q2546.2 542.4 2546.2 545.9V563.5Q2546.2 567 2542.7 567H2438Z"/>
<text x="2450.8" y="559.9" font-size="18" fill="#0f1117" textLength="86.3" lengthAdjust="spacingAndGlyphs">50,245.75</text>
<path fill="#ffffff" d="M2438 592H2542.7Q2546.2 592 2546.2 595.5V613.3Q2546.2 616.8 2542.7 616.8H2438Z"/>
<text x="2450.8" y="609.5" font-size="18" fill="#0f1117" textLength="86.3" lengthAdjust="spacingAndGlyphs">48,560.45</text>
<path fill="#ffffff" d="M2438 760.2H2542.7Q2546.2 760.2 2546.2 763.7V781.5Q2546.2 785 2542.7 785H2438Z"/>
<text x="2450.8" y="777.7" font-size="18" fill="#0f1117" textLength="86.3" lengthAdjust="spacingAndGlyphs">43,876.41</text>
<path fill="#ffffff" d="M2438 812.5H2542.7Q2546.2 812.5 2546.2 816V833.5Q2546.2 837 2542.7 837H2438Z"/>
<text x="2450.8" y="830" font-size="18" fill="#0f1117" textLength="86.3" lengthAdjust="spacingAndGlyphs">42,426.76</text>
<path fill="#b2b5be" d="M2438 860.4H2542.7Q2546.2 860.4 2546.2 863.9V881.5Q2546.2 885 2542.7 885H2438Z"/>
<text x="2450.8" y="877.9" font-size="18" fill="#0f1117" textLength="86.3" lengthAdjust="spacingAndGlyphs">41,087.75</text>
<path fill="#fbea5a" d="M2438 890.4H2542.7Q2546.2 890.4 2546.2 893.9V912.4Q2546.2 915.9 2542.7 915.9H2438Z"/>
<text x="2450.8" y="907.9" font-size="18" fill="#0f1117" textLength="86.3" lengthAdjust="spacingAndGlyphs">40,249.85</text>
<path fill="#e0484e" d="M2438 915.3H2542.7Q2546.2 915.3 2546.2 918.8V936.5Q2546.2 940 2542.7 940H2438Z"/>
<text x="2450.8" y="932.8" font-size="18" fill="#ffffff" textLength="86.3" lengthAdjust="spacingAndGlyphs">39,831.54</text>
<path fill="#b2b5be" d="M2438 941.4H2542.7Q2546.2 941.4 2546.2 944.9V962.3Q2546.2 965.8 2542.7 965.8H2438Z"/>
<text x="2450.8" y="958.9" font-size="18" fill="#0f1117" textLength="86.3" lengthAdjust="spacingAndGlyphs">39,435.35</text>
<path fill="#52b5d2" d="M2438 965.2H2542.7Q2546.2 965.2 2546.2 968.7V987.1Q2546.2 990.6 2542.7 990.6H2438Z"/>
<text x="2450.8" y="982.7" font-size="18" fill="#0f1117" textLength="86.3" lengthAdjust="spacingAndGlyphs">38,887.64</text>
<path fill="#ffffff" d="M2438 990H2542.7Q2546.2 990 2546.2 993.5V1011.9Q2546.2 1015.4 2542.7 1015.4H2438Z"/>
<text x="2450.8" y="1007.5" font-size="18" fill="#0f1117" textLength="86.3" lengthAdjust="spacingAndGlyphs">38,489.84</text>
<path fill="#ffffff" d="M2438 1014.8H2542.7Q2546.2 1014.8 2546.2 1018.3V1036.9Q2546.2 1040.4 2542.7 1040.4H2438Z"/>
<text x="2450.8" y="1032.3" font-size="18" fill="#0f1117" textLength="86.3" lengthAdjust="spacingAndGlyphs">38,369.63</text>
<path fill="#ffffff" d="M2438 1039.8H2542.7Q2546.2 1039.8 2546.2 1043.3V1061.9Q2546.2 1065.4 2542.7 1065.4H2438Z"/>
<text x="2450.8" y="1057.3" font-size="18" fill="#0f1117" textLength="86.3" lengthAdjust="spacingAndGlyphs">38,068.01</text>
<path fill="#ffffff" d="M2438 1065.4H2542.7Q2546.2 1065.4 2546.2 1068.9V1086.9Q2546.2 1090.4 2542.7 1090.4H2438Z"/>
<text x="2450.8" y="1082.9" font-size="18" fill="#0f1117" textLength="86.3" lengthAdjust="spacingAndGlyphs">37,736.04</text>
<path fill="#ffffff" d="M2438 1089.8H2542.7Q2546.2 1089.8 2546.2 1093.3V1111.9Q2546.2 1115.4 2542.7 1115.4H2438Z"/>
<text x="2450.8" y="1107.3" font-size="18" fill="#0f1117" textLength="86.3" lengthAdjust="spacingAndGlyphs">37,621.77</text>
<path fill="#ffffff" d="M2438 1114.8H2542.7Q2546.2 1114.8 2546.2 1118.3V1136.9Q2546.2 1140.4 2542.7 1140.4H2438Z"/>
<text x="2450.8" y="1132.3" font-size="18" fill="#0f1117" textLength="86.3" lengthAdjust="spacingAndGlyphs">37,534.81</text>
<path fill="#ffffff" d="M2438 1139.8H2542.7Q2546.2 1139.8 2546.2 1143.3V1160.9Q2546.2 1164.4 2542.7 1164.4H2438Z"/>
<text x="2450.8" y="1157.3" font-size="18" fill="#0f1117" textLength="86.3" lengthAdjust="spacingAndGlyphs">36,737.46</text>
<path fill="#f0a032" d="M2438 1165.2H2542.7Q2546.2 1165.2 2546.2 1168.7V1186.5Q2546.2 1190 2542.7 1190H2438Z"/>
<text x="2450.8" y="1182.7" font-size="18" fill="#0f1117" textLength="86.3" lengthAdjust="spacingAndGlyphs">35,707.84</text>
<path fill="#e0484e" d="M2438 1191.4H2542.7Q2546.2 1191.4 2546.2 1194.9V1211.7Q2546.2 1215.2 2542.7 1215.2H2438Z"/>
<text x="2450.8" y="1208.9" font-size="18" fill="#ffffff" textLength="86.3" lengthAdjust="spacingAndGlyphs">33,786.43</text>
<path fill="#b2b5be" d="M2438 1235H2542.7Q2546.2 1235 2546.2 1238.5V1256.1Q2546.2 1259.6 2542.7 1259.6H2438Z"/>
<text x="2450.8" y="1252.5" font-size="18" fill="#0f1117" textLength="86.3" lengthAdjust="spacingAndGlyphs">30,664.12</text>
<rect x="2442.7" y="10.3" width="105" height="37.4" rx="7" fill="#0d0d0d" stroke="#4b4b4b" stroke-width="1.4"/>
<text x="2448.2" y="36.2" font-size="17.8" fill="#d6d6d6" textLength="31" lengthAdjust="spacingAndGlyphs">JPY</text>
<path d="M2533.9 28L2537.6 31.4L2541.3 28" fill="none" stroke="#d6d6d6" stroke-width="2"/>
<polygon points="2507.6,1387 2502.1,1396.53 2491.1,1396.53 2485.6,1387 2491.1,1377.47 2502.1,1377.47" fill="none" stroke="#d0d0d0" stroke-width="1.6" stroke-linejoin="round"/>
<circle cx="2496.6" cy="1387" r="3.1" fill="none" stroke="#d0d0d0" stroke-width="1.6"/>
<clipPath id="tclip"><rect x="4" y="1365" width="2433" height="40"/></clipPath>
<g clip-path="url(#tclip)">
<text x="0.68" y="1393.1" font-size="18" fill="#b2b5be" textLength="9.4" lengthAdjust="spacingAndGlyphs">2</text>
<text class="cjk" x="10.98" y="1394.3" font-size="18" fill="#b2b5be" font-family="'Liberation Sans', 'Noto Sans CJK JP', sans-serif">月</text>
<text x="137.03" y="1393.1" font-size="18" fill="#b2b5be" textLength="9.4" lengthAdjust="spacingAndGlyphs">3</text>
<text class="cjk" x="147.33" y="1394.3" font-size="18" fill="#b2b5be" font-family="'Liberation Sans', 'Noto Sans CJK JP', sans-serif">月</text>
<text x="288.52" y="1393.1" font-size="18" fill="#b2b5be" textLength="9.4" lengthAdjust="spacingAndGlyphs">4</text>
<text class="cjk" x="298.82" y="1394.3" font-size="18" fill="#b2b5be" font-family="'Liberation Sans', 'Noto Sans CJK JP', sans-serif">月</text>
<text x="447.6" y="1393.1" font-size="18" fill="#b2b5be" textLength="9.4" lengthAdjust="spacingAndGlyphs">5</text>
<text class="cjk" x="457.9" y="1394.3" font-size="18" fill="#b2b5be" font-family="'Liberation Sans', 'Noto Sans CJK JP', sans-serif">月</text>
<text x="599.1" y="1393.1" font-size="18" fill="#b2b5be" textLength="9.4" lengthAdjust="spacingAndGlyphs">6</text>
<text class="cjk" x="609.4" y="1394.3" font-size="18" fill="#b2b5be" font-family="'Liberation Sans', 'Noto Sans CJK JP', sans-serif">月</text>
<text x="758.18" y="1393.1" font-size="18" fill="#b2b5be" textLength="9.4" lengthAdjust="spacingAndGlyphs">7</text>
<text class="cjk" x="768.48" y="1394.3" font-size="18" fill="#b2b5be" font-family="'Liberation Sans', 'Noto Sans CJK JP', sans-serif">月</text>
<text x="924.83" y="1393.1" font-size="18" fill="#b2b5be" textLength="9.4" lengthAdjust="spacingAndGlyphs">8</text>
<text class="cjk" x="935.12" y="1394.3" font-size="18" fill="#b2b5be" font-family="'Liberation Sans', 'Noto Sans CJK JP', sans-serif">月</text>
<text x="1076.33" y="1393.1" font-size="18" fill="#b2b5be" textLength="9.4" lengthAdjust="spacingAndGlyphs">9</text>
<text class="cjk" x="1086.63" y="1394.3" font-size="18" fill="#b2b5be" font-family="'Liberation Sans', 'Noto Sans CJK JP', sans-serif">月</text>
<text x="1222.13" y="1393.1" font-size="18" fill="#b2b5be" textLength="20.8" lengthAdjust="spacingAndGlyphs">10</text>
<text class="cjk" x="1243.83" y="1394.3" font-size="18" fill="#b2b5be" font-family="'Liberation Sans', 'Noto Sans CJK JP', sans-serif">月</text>
<text x="1388.78" y="1393.1" font-size="18" fill="#b2b5be" textLength="20.8" lengthAdjust="spacingAndGlyphs">11</text>
<text class="cjk" x="1410.48" y="1394.3" font-size="18" fill="#b2b5be" font-family="'Liberation Sans', 'Noto Sans CJK JP', sans-serif">月</text>
<text x="1525.13" y="1393.1" font-size="18" fill="#b2b5be" textLength="20.8" lengthAdjust="spacingAndGlyphs">12</text>
<text class="cjk" x="1546.83" y="1394.3" font-size="18" fill="#b2b5be" font-family="'Liberation Sans', 'Noto Sans CJK JP', sans-serif">月</text>
<text x="1711.88" y="1393.1" font-size="18" fill="#cdd0d9" text-anchor="middle" font-weight="bold" textLength="45.6" lengthAdjust="spacingAndGlyphs">2026</text>
<text x="1841.4" y="1393.1" font-size="18" fill="#b2b5be" textLength="9.4" lengthAdjust="spacingAndGlyphs">2</text>
<text class="cjk" x="1851.7" y="1394.3" font-size="18" fill="#b2b5be" font-family="'Liberation Sans', 'Noto Sans CJK JP', sans-serif">月</text>
<text x="1977.75" y="1393.1" font-size="18" fill="#b2b5be" textLength="9.4" lengthAdjust="spacingAndGlyphs">3</text>
<text class="cjk" x="1988.05" y="1394.3" font-size="18" fill="#b2b5be" font-family="'Liberation Sans', 'Noto Sans CJK JP', sans-serif">月</text>
<text x="2136.82" y="1393.1" font-size="18" fill="#b2b5be" textLength="9.4" lengthAdjust="spacingAndGlyphs">4</text>
<text class="cjk" x="2147.12" y="1394.3" font-size="18" fill="#b2b5be" font-family="'Liberation Sans', 'Noto Sans CJK JP', sans-serif">月</text>
<text x="2295.9" y="1393.1" font-size="18" fill="#b2b5be" textLength="9.4" lengthAdjust="spacingAndGlyphs">5</text>
<text class="cjk" x="2306.2" y="1394.3" font-size="18" fill="#b2b5be" font-family="'Liberation Sans', 'Noto Sans CJK JP', sans-serif">月</text>
</g>
<circle cx="28.7" cy="28.7" r="13.2" fill="#2d5083"/>
<text x="28.7" y="33.1" font-size="12.2" fill="#ffffff" text-anchor="middle" font-weight="bold" textLength="20.6" lengthAdjust="spacingAndGlyphs">225</text>
<text x="49.6" y="38" font-size="24" fill="#c5c8d2" textLength="110.8" lengthAdjust="spacingAndGlyphs">Japan 225</text>
<text class="cjk" x="168.2" y="37.4" font-size="23.3" fill="#c5c8d2" font-family="'Liberation Sans', 'Noto Sans CJK JP', sans-serif" textLength="139.8" lengthAdjust="spacingAndGlyphs">インデックス</text>
<text x="318.8" y="38" font-size="24" fill="#c5c8d2" text-anchor="middle">·</text>
<text x="328.2" y="38" font-size="24" fill="#c5c8d2" textLength="8.5" lengthAdjust="spacingAndGlyphs">1</text>
<text class="cjk" x="341.2" y="37.4" font-size="23.3" fill="#c5c8d2" font-family="'Liberation Sans', 'Noto Sans CJK JP', sans-serif">日</text>
<text x="373.5" y="38" font-size="24" fill="#c5c8d2" text-anchor="middle">·</text>
<text x="383.2" y="38" font-size="24" fill="#c5c8d2" textLength="44" lengthAdjust="spacingAndGlyphs">TVC</text>
<path fill="#ef5f58" d="M446.2 20.2H463L457.9 29.05L463 37.9H446.2Q445.2 37.9 445.2 36.9V21.2Q445.2 20.2 446.2 20.2Z"/>
<clipPath id="pill"><rect x="479.9" y="15.6" width="58.9" height="26.4" rx="13.2"/></clipPath>
<g clip-path="url(#pill)"><rect x="479.9" y="15.6" width="29.8" height="26.4" fill="#383b46"/><rect x="509.7" y="15.6" width="29.2" height="26.4" fill="#45233d"/></g>
<rect x="489.1" y="25.3" width="15" height="6.1" rx="3.05" fill="#bfbfbf"/>
<path d="M517.8 26.5q2.8-2.8 5.9-0.7t5.9-1.3M517.8 32q2.8-2.8 5.9-0.7t5.9-1.3" fill="none" stroke="#f0468a" stroke-width="2.1" stroke-linecap="round"/>
<text class="cjk" x="551.6" y="37.1" font-size="18.6" fill="#c5c8d2" font-family="'Liberation Sans', 'Noto Sans CJK JP', sans-serif" textLength="37.2" lengthAdjust="spacingAndGlyphs">始値</text>
<text x="591.4" y="37.5" font-size="19.2" fill="#e0484e" textLength="92.6" lengthAdjust="spacingAndGlyphs">53,205.93</text>
<text class="cjk" x="694.4" y="37.1" font-size="18.6" fill="#c5c8d2" font-family="'Liberation Sans', 'Noto Sans CJK JP', sans-serif" textLength="37.2" lengthAdjust="spacingAndGlyphs">高値</text>
<text x="734.2" y="37.5" font-size="19.2" fill="#e0484e" textLength="92.6" lengthAdjust="spacingAndGlyphs">54,039.34</text>
<text class="cjk" x="837.5" y="37.1" font-size="18.6" fill="#c5c8d2" font-family="'Liberation Sans', 'Noto Sans CJK JP', sans-serif" textLength="37.2" lengthAdjust="spacingAndGlyphs">安値</text>
<text x="877.3" y="37.5" font-size="19.2" fill="#e0484e" textLength="92.6" lengthAdjust="spacingAndGlyphs">53,205.93</text>
<text class="cjk" x="980.4" y="37.1" font-size="18.6" fill="#c5c8d2" font-family="'Liberation Sans', 'Noto Sans CJK JP', sans-serif" textLength="37.2" lengthAdjust="spacingAndGlyphs">終値</text>
<text x="1020.4" y="37.5" font-size="19.2" fill="#e0484e" textLength="92.6" lengthAdjust="spacingAndGlyphs">53,413.63</text>
<text x="1123.8" y="37.5" font-size="19.2" fill="#e0484e" textLength="164.8" lengthAdjust="spacingAndGlyphs">+290.19 (+0.55%)</text>
<rect x="16.6" y="53.6" width="123.6" height="49.8" rx="9.5" fill="#0e0e0e" stroke="#c9484d" stroke-width="1.5"/>
<text x="78.6" y="75.6" font-size="17.5" fill="#e5484d" text-anchor="middle" font-weight="bold" textLength="91" lengthAdjust="spacingAndGlyphs">53,413.63</text>
<text class="cjk" x="61.6" y="95.2" font-size="15.8" fill="#e5484d" font-family="'Liberation Sans', 'Noto Sans CJK JP', sans-serif" textLength="31.6" lengthAdjust="spacingAndGlyphs">売り</text>
<text x="168.5" y="85.3" font-size="15.6" fill="#d4d4d4" text-anchor="middle" textLength="31.6" lengthAdjust="spacingAndGlyphs">0.00</text>
<rect x="196.5" y="53.6" width="124" height="49.8" rx="9.5" fill="#0e0e0e" stroke="#2f57d2" stroke-width="1.5"/>
<text x="259" y="75.6" font-size="17.5" fill="#3d6ff5" text-anchor="middle" font-weight="bold" textLength="91" lengthAdjust="spacingAndGlyphs">53,413.63</text>
<text class="cjk" x="242.7" y="95.2" font-size="15.8" fill="#3d6ff5" font-family="'Liberation Sans', 'Noto Sans CJK JP', sans-serif" textLength="31.6" lengthAdjust="spacingAndGlyphs">買い</text>
<filter id="sh" x="-10%" y="-30%" width="120%" height="170%"><feGaussianBlur stdDeviation="3.2"/></filter>
<rect x="343.8" y="57" width="311.6" height="54" rx="9" fill="#05060a" opacity="0.55" filter="url(#sh)"/>
<rect x="342.8" y="53.5" width="313.6" height="54.6" rx="9" fill="#1e1e1e"/>
<rect x="354.7" y="72.1" width="2.6" height="2.6" rx="1.3" fill="#4e4e4e"/>
<rect x="354.7" y="79.2" width="2.6" height="2.6" rx="1.3" fill="#4e4e4e"/>
<rect x="354.7" y="86.4" width="2.6" height="2.6" rx="1.3" fill="#4e4e4e"/>
<rect x="363.4" y="72.1" width="2.6" height="2.6" rx="1.3" fill="#4e4e4e"/>
<rect x="363.4" y="79.2" width="2.6" height="2.6" rx="1.3" fill="#4e4e4e"/>
<rect x="363.4" y="86.4" width="2.6" height="2.6" rx="1.3" fill="#4e4e4e"/>
<g fill="none" stroke="#d4d4d4" stroke-width="1.4">
<circle cx="392.9" cy="93.9" r="3.1"/><circle cx="417.9" cy="68.5" r="3.1"/><path d="M395.1 91.7L415.7 70.7"/>
<circle cx="450.2" cy="89.3" r="3.1"/><circle cx="469.2" cy="70.1" r="3.1"/><path d="M452.4 87.1L467 72.3"/>
<circle cx="468" cy="87.9" r="3.1"/><path d="M458.3 97.8L465.8 90.1M470.2 85.7L477.7 78.4"/>
<path d="M501 67.2H533.5M501 75.9H529.7M501 84.8H533.5M504.8 93.9H533.5"/><circle cx="532.8" cy="75.9" r="3.1"/><circle cx="501.7" cy="93.9" r="3.1"/>
<circle cx="562.3" cy="81.9" r="3.1"/><path d="M565.4 81.9H589.6"/>
<circle cx="618" cy="92.5" r="3.1"/><circle cx="630.2" cy="80.5" r="3.1"/><path d="M620.2 90.3L628 82.7M632.4 78.3L644.6 66.3"/>
</g>
<rect x="16.8" y="114.3" width="47.2" height="28.5" rx="4.5" fill="#181b27" stroke="#35373d" stroke-width="1.3"/>
<path d="M25.4 126.2L31.2 131.6L37 126.2" fill="none" stroke="#d4d4d4" stroke-width="2.1"/>
<text x="46.2" y="134.7" font-size="18.4" fill="#d9d9d9">5</text>
<circle cx="100.6" cy="129" r="13.4" fill="#3a3154"/>
<g fill="none" stroke="#b488fb" stroke-width="2.1">
<path d="M94.06 125.94A7.5 7.5 0 0 1 107.9 125.6M108.19 130.95A7.5 7.5 0 0 1 94.3 132.2"/>
</g>
<path fill="#b488fb" d="M104.9 126.8L111.3 125.3L108.9 129.5ZM97.2 130.4L90.8 131.9L93.2 127.8Z"/>
<g stroke="#101014" stroke-width="3.2" stroke-linejoin="round" paint-order="stroke" fill="#dcdcdc">
<path d="M21.4 1322.8H39.6V1344.2H30.3V1332H21.4Z"/>
<circle cx="46.1" cy="1326.9" r="4.1"/>
<path d="M54.7 1322.8H65.4L57.2 1344.2H47.1Z"/>
<text x="75.8" y="1344.1" font-size="30" font-weight="bold" textLength="177.4" lengthAdjust="spacingAndGlyphs">TradingView</text>
</g>
<circle cx="2174.9" cy="1346.4" r="16.2" fill="#0a0a0c"/>
<circle cx="2174.9" cy="1346.4" r="14" fill="#0e0e0e" stroke="#a04fc2" stroke-width="2.5"/>
<path fill="#a84fc8" d="M2179.4 1338.4L2168.8 1347.8H2174L2170.6 1354.6L2181.2 1345.2H2176Z"/>
<circle cx="2196.9" cy="1346.4" r="16.6" fill="#0a0a0c"/>
<circle cx="2196.9" cy="1346.4" r="14.6" fill="#0a0a0c" stroke="#e04b50" stroke-width="2.6"/>
<circle cx="2196.9" cy="1346.4" r="12" fill="#eef1fa"/>
<circle cx="2196.9" cy="1346.4" r="5.2" fill="#e8606a"/>
</svg>
</body></html>
